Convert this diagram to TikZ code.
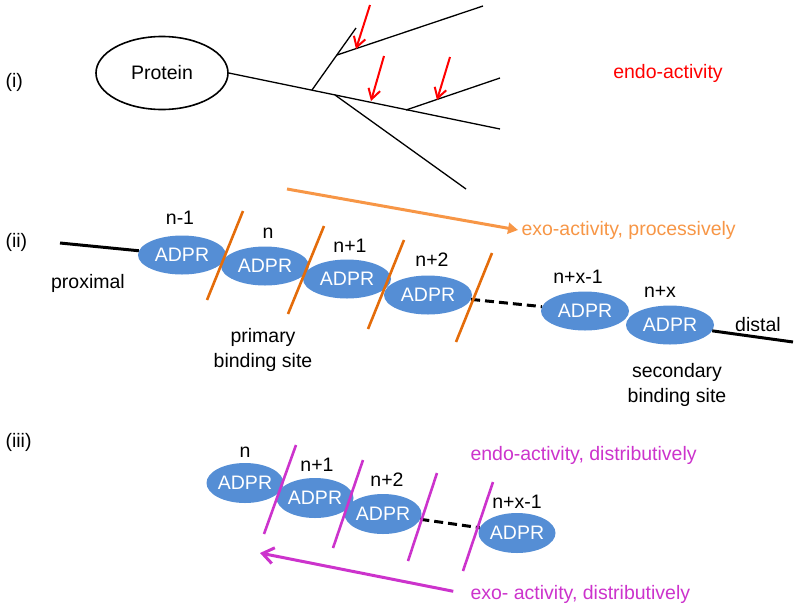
\documentclass[tikz,border=0pt]{standalone}
\usepackage{fontspec}
\setmainfont{Liberation Sans}
\usetikzlibrary{shapes.geometric,arrows.meta}
\definecolor{adprblue}{RGB}{85,142,213}
\definecolor{cutorange}{RGB}{228,108,10}
\definecolor{exoorange}{RGB}{247,150,70}
\definecolor{distpink}{RGB}{204,51,204}

\begin{document}
\begin{tikzpicture}[x=1pt,y=-1pt,font=\fontsize{19.5}{25}\selectfont,
  unit/.style={ellipse,fill=adprblue,text=white,inner sep=0pt,
    minimum width=88pt,minimum height=39pt},
  smallunit/.style={unit,minimum width=77pt,minimum height=40pt},
  tree/.style={line width=1.3pt},
  gap/.style={line width=3pt,dash pattern=on 9pt off 5pt},
  cutii/.style={line width=2.6pt,cutorange},
  cutiii/.style={line width=2.6pt,distpink},
  endoarrow/.style={line width=2pt,red,-{Straight Barb[length=10pt,width=12pt]}}]
  \useasboundingbox (0,0) rectangle (798,611);

  % (i) the branched chain on the protein
  \node[anchor=west] (lbli) at (2,82) {(i)};
  \node[draw,ellipse,line width=1.6pt,minimum width=132pt,minimum height=73pt] (prot) at (162,73) {Protein};
  \coordinate (j1) at (312,90);
  \coordinate (j2) at (335,95);
  \coordinate (j3) at (406,110);
  \coordinate (k1) at (337,55);
  \coordinate (tipa) at (356,28);
  \coordinate (tipb) at (483,6);
  \coordinate (tipc) at (500,78);
  \coordinate (tipd) at (500,129);
  \coordinate (tipe) at (466,189);
  \draw[tree] (prot.east) -- (tipd);
  \draw[tree] (j1) -- (tipa);
  \draw[tree] (k1) -- (tipb);
  \draw[tree] (j3) -- (tipc);
  \draw[tree] (j2) -- (tipe);
  \coordinate (r1) at (370,5);   \coordinate (h1) at (356,49);
  \coordinate (r2) at (384,56);  \coordinate (h2) at (371,101);
  \coordinate (r3) at (450,57);  \coordinate (h3) at (437,100);
  \draw[endoarrow] (r1) -- (h1);
  \draw[endoarrow] (r2) -- (h2);
  \draw[endoarrow] (r3) -- (h3);
  \node[red] (endoi) at (668,73) {endo-activity};

  % (ii) processive exo-activity
  \node[anchor=west] (lblii) at (2,242) {(ii)};
  \coordinate (exostart) at (287,189);
  \node[anchor=west,exoorange] (exoii) at (518,230) {exo-activity, processively};
  \draw[line width=3pt,exoorange,-{Triangle[length=10pt,width=11pt]}] (exostart) -- (exoii.west);
  \node[unit] (e1) at (182,255) {ADPR};
  \node[unit] (e2) at (265,266) {ADPR};
  \node[unit] (e3) at (347,279) {ADPR};
  \node[unit] (e4) at (428,295) {ADPR};
  \node[unit] (e5) at (585,311) {ADPR};
  \node[unit] (e6) at (670,325) {ADPR};
  \node (n1) at (180,218) {n-1};
  \node (n2) at (268,233) {n};
  \node (n3) at (350,246) {n+1};
  \node (n4) at (432,260) {n+2};
  \node (n5) at (578,277) {n+x-1};
  \node (n6) at (660,292) {n+x};
  \coordinate (proxend) at (60,243);
  \coordinate (distend) at (793,342);
  \draw[line width=3pt] (proxend) -- (e1);
  \draw[gap] (e4) -- (e5);
  \draw[line width=3pt] (e6) -- (distend);
  \draw[cutii] (243,211) -- (207,300);
  \draw[cutii] (324,226) -- (288,314);
  \draw[cutii] (404,240) -- (368,329);
  \draw[cutii] (492,253) -- (456,342);
  \node (prox) at (88,283) {proximal};
  \node (dist) at (758,325) {distal};
  \node[align=center] (prim) at (263,350) {primary\\binding site};
  \node[align=center] (sec) at (677,385) {secondary\\binding site};

  % (iii) distributive endo- and exo-activity
  \node[anchor=west] (lbliii) at (2,442) {(iii)};
  \node[anchor=west,distpink] (endoiii) at (467,455) {endo-activity, distributively};
  \node[smallunit] (f1) at (245,483) {ADPR};
  \node[smallunit] (f2) at (315,498) {ADPR};
  \node[smallunit] (f3) at (383,514) {ADPR};
  \node[smallunit] (f4) at (517,533) {ADPR};
  \node (m1) at (245,452) {n};
  \node (m2) at (317,465) {n+1};
  \node (m3) at (387,480) {n+2};
  \node (m4) at (517,502) {n+x-1};
  \draw[gap] (f3) -- (f4);
  \draw[cutiii] (296,445) -- (264,534);
  \draw[cutiii] (363,460) -- (333,548);
  \draw[cutiii] (437,473) -- (408,561);
  \draw[cutiii] (493,482) -- (463,571);
  \node[anchor=west,distpink] (exoiii) at (467,594) {exo- activity, distributively};
  \coordinate (backend) at (260,553);
  \draw[line width=3pt,distpink,shorten <=14pt,-{Straight Barb[length=11pt,width=16pt]}] (exoiii.west) -- (backend);
\end{tikzpicture}
\end{document}
